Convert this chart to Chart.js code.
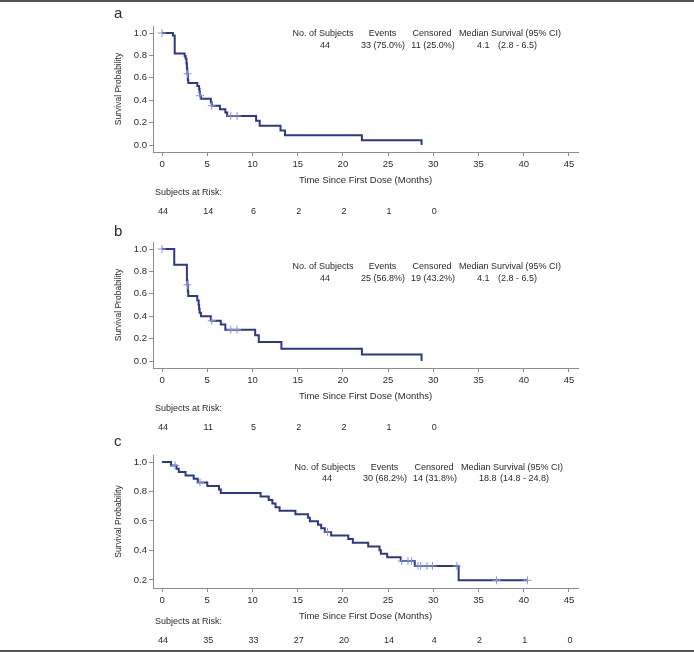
<!DOCTYPE html>
<html>
<head>
<meta charset="utf-8">
<script src="https://cdn.jsdelivr.net/npm/chart.js@4"></script>
<style>
  body { margin: 0; background: #fff; }
  #wrap { position: relative; width: 694px; height: 652px; box-sizing: border-box;
          border-top: 2px solid #555; border-bottom: 2px solid #555; }
  canvas { position: absolute; left: 0; }
</style>
</head>
<body>
<div id="wrap">
  <canvas id="ca" width="694" height="216" style="top:-2px"></canvas>
  <canvas id="cb" width="694" height="216" style="top:214px"></canvas>
  <canvas id="cc" width="694" height="223" style="top:427px"></canvas>
</div>
<script>
// x ticks / risk table times
const xTicks = [0, 5, 10, 15, 20, 25, 30, 35, 40, 45];
const riskTimes = [0, 5, 10, 15, 20, 25, 30, 35, 40, 45];

// panel a
const aTimes = [0, 1.2, 1.4, 2.5, 2.6, 2.7, 2.75, 2.8, 2.85, 2.9, 3.9, 4.1, 4.15, 4.2, 4.3, 5.4, 5.5, 6.4, 7.0, 7.2, 10.4, 10.8, 13.1, 13.6, 22.1, 28.7];
const aSurv  = [1.0, 0.977, 0.818, 0.795, 0.773, 0.727, 0.682, 0.636, 0.58, 0.553, 0.527, 0.5, 0.47, 0.44, 0.413, 0.38, 0.35, 0.32, 0.29, 0.26, 0.217, 0.172, 0.13, 0.087, 0.043, 0.0];
const aCensT = [0, 2.8, 4.2, 5.5, 7.6, 8.3];
const aCensS = [1.0, 0.636, 0.44, 0.35, 0.26, 0.26];
const aRisk  = [44, 14, 6, 2, 2, 1, 0];
const aStats = ['44', '33 (75.0%)', '11 (25.0%)', '4.1', '(2.8 - 6.5)'];

// panel b
const bTimes = [0, 1.35, 2.75, 2.8, 2.85, 2.9, 3.9, 4.05, 4.1, 4.15, 4.3, 5.4, 6.5, 7.0, 10.3, 10.7, 13.2, 22.1, 28.7];
const bSurv  = [1.0, 0.86, 0.72, 0.68, 0.62, 0.58, 0.54, 0.5, 0.465, 0.43, 0.4, 0.36, 0.325, 0.28, 0.23, 0.17, 0.11, 0.057, 0.0];
const bCensT = [0, 2.8, 5.5, 7.6, 8.3];
const bCensS = [1.0, 0.68, 0.36, 0.28, 0.28];
const bRisk  = [44, 11, 5, 2, 2, 1, 0];
const bStats = ['44', '25 (56.8%)', '19 (43.2%)', '4.1', '(2.8 - 6.5)'];

// panel c
const cTimes = [0, 1.0, 1.6, 1.85, 2.6, 3.5, 3.95, 5.0, 6.3, 6.5, 10.9, 11.8, 12.2, 12.55, 13.0, 14.75, 16.15, 16.35, 17.25, 17.6, 18.0, 18.7, 20.6, 21.1, 22.8, 24.05, 24.2, 24.9, 26.4, 27.95, 32.8, 40.4];
const cSurv  = [1.0, 0.977, 0.955, 0.932, 0.909, 0.886, 0.862, 0.838, 0.814, 0.79, 0.766, 0.742, 0.718, 0.694, 0.67, 0.646, 0.622, 0.598, 0.574, 0.55, 0.526, 0.502, 0.477, 0.452, 0.427, 0.402, 0.378, 0.353, 0.328, 0.295, 0.197, 0.197];
const cCensT = [1.45, 4.2, 18.3, 26.5, 27.2, 27.6, 28.3, 28.6, 29.3, 29.9, 32.6, 37.0, 40.4];
const cCensS = [0.977, 0.862, 0.526, 0.328, 0.328, 0.328, 0.295, 0.295, 0.295, 0.295, 0.295, 0.197, 0.197];
const cRisk  = [44, 35, 33, 27, 20, 14, 4, 2, 1, 0];
const cStats = ['44', '30 (68.2%)', '14 (31.8%)', '18.8', '(14.8 - 24.8)'];

const statHeaders = ['No. of Subjects', 'Events', 'Censored', 'Median Survival (95% CI)'];

const FONT = '"Liberation Sans", Arial, sans-serif';
const LINE = '#2d3889';
const CENS = '#8796d9';
const AXIS = '#8c8c8c';
const TEXT = '#2a2a2a';

function pts(xs, ys) {
  return xs.map((x, i) => ({ x: x, y: ys[i] }));
}

// text drawn around the plot: panel letter, summary table, at-risk table
const extras = {
  id: 'extras',
  afterDraw(chart, args, o) {
    const ctx = chart.ctx;
    ctx.save();
    ctx.fillStyle = TEXT;
    ctx.textBaseline = 'alphabetic';
    ctx.textAlign = 'left';
    ctx.font = '15px ' + FONT;
    ctx.fillText(o.letter, 114, o.letterY);

    ctx.font = '9px ' + FONT;
    ctx.textBaseline = 'middle';
    const dx = o.dx || 0;
    const hx = [323, 382.5, 432, 510];
    ctx.textAlign = 'center';
    statHeaders.forEach((h, i) => ctx.fillText(h, hx[i] + dx, o.annY));
    ctx.fillText(o.stats[0], 325 + dx, o.annY + 11.5);
    ctx.fillText(o.stats[1], 383 + dx, o.annY + 11.5);
    ctx.fillText(o.stats[2], 433 + dx, o.annY + 11.5);
    ctx.textAlign = 'left';
    ctx.fillText(o.stats[3], 477 + dx, o.annY + 11.5);
    ctx.fillText(o.stats[4], 498 + dx, o.annY + 11.5);

    ctx.fillText('Subjects at Risk:', 155, 193);
    ctx.textAlign = 'center';
    const xs = chart.scales.x;
    o.risk.forEach((n, i) => {
      ctx.fillText(String(n), xs.getPixelForValue(riskTimes[i]) + 1, 211.5);
    });
    ctx.restore();
  }
};

function makeChart(id, times, surv, censT, censS, yMin, yMax, yTicks, extraOpts) {
  const tickFont = { family: FONT, size: 9.5 };
  return new Chart(document.getElementById(id), {
    type: 'line',
    data: {
      datasets: [
        {
          data: pts(censT, censS),
          showLine: false,
          pointStyle: 'cross',
          pointRadius: 4,
          pointBorderWidth: 1,
          pointBorderColor: CENS,
          borderColor: CENS
        },
        {
          data: pts(times, surv),
          stepped: true,
          borderColor: LINE,
          borderWidth: 2,
          pointRadius: 0,
          fill: false
        }
      ]
    },
    options: {
      responsive: false,
      animation: false,
      events: [],
      layout: { padding: { left: 110, right: 116, top: 26, bottom: 30 } },
      plugins: { legend: { display: false }, tooltip: { enabled: false }, extras: extraOpts },
      scales: {
        x: {
          type: 'linear',
          min: -1,
          max: 46,
          afterBuildTicks: s => { s.ticks = xTicks.map(v => ({ value: v })); },
          afterFit: s => { s.height = 34; },
          grid: { drawOnChartArea: false, tickLength: 4, color: AXIS },
          border: { color: AXIS, width: 1 },
          ticks: { font: tickFont, color: TEXT, padding: 3, maxRotation: 0, autoSkip: false },
          title: { display: true, text: 'Time Since First Dose (Months)', font: tickFont, color: TEXT,
                   padding: { top: 0, bottom: 0 } }
        },
        y: {
          min: yMin,
          max: yMax,
          afterBuildTicks: s => { s.ticks = yTicks.map(v => ({ value: v })); },
          afterFit: s => { s.width = 43; },
          grid: { drawOnChartArea: false, tickLength: 4, color: AXIS },
          border: { color: AXIS, width: 1 },
          ticks: { font: tickFont, color: TEXT, padding: 2, callback: v => Number(v).toFixed(1) },
          title: { display: true, text: 'Survival Probability', font: { family: FONT, size: 8.5 }, color: TEXT,
                   padding: { top: 4, bottom: 0 } }
        }
      }
    },
    plugins: [extras]
  });
}

const yTicksAB = [0, 0.2, 0.4, 0.6, 0.8, 1.0];
const yTicksC = [0.2, 0.4, 0.6, 0.8, 1.0];

makeChart('ca', aTimes, aSurv, aCensT, aCensS, -0.0625, 1.0625, yTicksAB,
  { letter: 'a', letterY: 18, annY: 34, stats: aStats, risk: aRisk });
makeChart('cb', bTimes, bSurv, bCensT, bCensS, -0.0625, 1.0625, yTicksAB,
  { letter: 'b', letterY: 20, annY: 51, stats: bStats, risk: bRisk });
makeChart('cc', cTimes, cSurv, cCensT, cCensS, 0.145, 1.048, yTicksC,
  { letter: 'c', letterY: 17, annY: 38.5, stats: cStats, risk: cRisk, dx: 2 });
</script>
</body>
</html>
